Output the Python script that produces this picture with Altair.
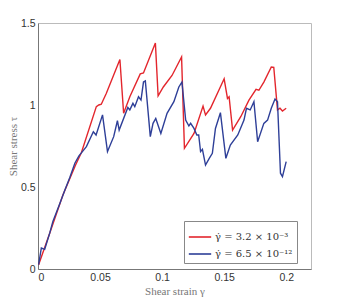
import altair as alt
import pandas as pd

x_red = [0.0005, 0.01, 0.02, 0.03, 0.035, 0.047, 0.049, 0.051, 0.055, 0.066, 0.069, 0.074, 0.0824,
         0.085, 0.0946, 0.0968, 0.101, 0.108, 0.1157, 0.118, 0.1257, 0.133, 0.135, 0.139, 0.150,
         0.1527, 0.154, 0.1568, 0.1635, 0.170, 0.1757, 0.178, 0.182, 0.188, 0.190, 0.193, 0.195,
         0.197, 0.2]
y_red = [0.026, 0.23, 0.45, 0.63, 0.71, 0.99, 1.0, 1.005, 1.07, 1.277, 0.95, 1.05, 1.19,
         1.195, 1.378, 1.056, 1.11, 1.18, 1.293, 0.736, 0.827, 0.993, 0.94, 0.98, 1.16,
         1.04, 1.05, 0.847, 0.93, 1.03, 1.095, 1.09, 1.14, 1.232, 1.23, 0.97, 0.98,
         0.963, 0.98]

x_blue = [0.0005, 0.0027, 0.0054, 0.0095, 0.012, 0.0176, 0.0216, 0.0257, 0.0297, 0.033, 0.039,
          0.0446, 0.0468, 0.052, 0.056, 0.061, 0.064, 0.0654, 0.0724, 0.074, 0.0765, 0.078,
          0.081, 0.083, 0.085, 0.0865, 0.0905, 0.0927, 0.0949, 0.099, 0.104, 0.1095, 0.1135,
          0.116, 0.119, 0.1216, 0.123, 0.1257, 0.128, 0.1295, 0.131, 0.1325, 0.135, 0.138,
          0.1405, 0.143, 0.147, 0.1514, 0.155, 0.161, 0.166, 0.168, 0.171, 0.174, 0.177,
          0.182, 0.185, 0.188, 0.191, 0.193, 0.1954, 0.197, 0.2]
y_blue = [0.026, 0.128, 0.12, 0.22, 0.29, 0.40, 0.48, 0.56, 0.645, 0.69, 0.746,
          0.837, 0.817, 0.94, 0.716, 0.807, 0.904, 0.847, 0.985, 0.97, 1.01, 0.99,
          1.05, 1.03, 1.14, 1.147, 0.807, 0.888, 0.918, 0.827, 0.949, 1.02, 1.11,
          1.14, 0.908, 0.872, 0.888, 0.857, 0.817, 0.817, 0.716, 0.73, 0.634, 0.675,
          0.705, 0.857, 0.953, 0.675, 0.756, 0.817, 0.908, 0.98, 0.97, 1.02, 0.776,
          0.888, 0.908, 0.98, 1.036, 1.02, 0.584, 0.563, 0.655]

label_red = "γ̇ = 3.2 × 10⁻³"
label_blue = "γ̇ = 6.5 × 10⁻¹²"

x_ticks = [0, 0.05, 0.1, 0.15, 0.2]
y_ticks = [0, 0.5, 1, 1.5]

rows = []
for i, (x, y) in enumerate(zip(x_red, y_red)):
    rows.append({"strain": x, "stress": y, "series": label_red, "order": i})
for i, (x, y) in enumerate(zip(x_blue, y_blue)):
    rows.append({"strain": x, "stress": y, "series": label_blue, "order": i})
df = pd.DataFrame(rows)

chart = alt.Chart(df).mark_line(strokeWidth=1.4).encode(
    x=alt.X("strain:Q",
            scale=alt.Scale(domain=[0, 0.22], nice=False, zero=True),
            axis=alt.Axis(values=x_ticks, title="Shear strain γ", grid=False,
                          ticks=False, labelPadding=3, format="~g",
                          labelFont="Liberation Sans", labelFontSize=10.5,
                          labelColor="#333", domainColor="#777",
                          titleFont="Liberation Serif", titleFontSize=11,
                          titleFontWeight="normal", titleColor="#777",
                          titlePadding=3)),
    y=alt.Y("stress:Q",
            scale=alt.Scale(domain=[0, 1.5], nice=False),
            axis=alt.Axis(values=y_ticks, title="Shear stress τ", grid=False,
                          ticks=False, labelPadding=3, format="~g",
                          labelFont="Liberation Sans", labelFontSize=10.5,
                          labelColor="#333", domainColor="#777",
                          titleFont="Liberation Serif", titleFontSize=11,
                          titleFontWeight="normal", titleColor="#777",
                          titlePadding=2)),
    color=alt.Color("series:N",
                    scale=alt.Scale(domain=[label_red, label_blue],
                                    range=["#e3262d", "#2e3f98"]),
                    legend=alt.Legend(title=None, orient="none", legendX=146, legendY=198,
                                      symbolType="stroke", symbolSize=500,
                                      symbolStrokeWidth=1.6, labelFont="DejaVu Serif",
                                      labelFontSize=10, labelColor="#333",
                                      strokeColor="#888", fillColor="white",
                                      padding=4, rowPadding=0, labelOffset=3)),
    order="order:Q",
).properties(
    width=273, height=246,
    autosize=alt.AutoSizeParams(type="none"),
    padding={"left": 30, "top": 15, "right": 25, "bottom": 34},
).configure_view(stroke="#bbb", strokeWidth=1)

chart.save("out.html", embed_options={"renderer": "svg", "actions": False})
